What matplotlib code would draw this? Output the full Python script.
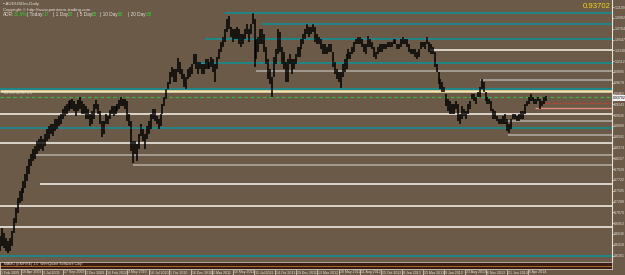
import numpy as np
import pandas as pd
import matplotlib
matplotlib.use("Agg")
import matplotlib.pyplot as plt

# weekly low / high of AUDUSD, one row per month (Feb 2009 .. Jun 2014)
week_low = [
    0.6300, 0.6400, 0.6350, 0.6300,
    0.6250, 0.6300, 0.6400, 0.6650, 0.6850,
    0.7050, 0.7250, 0.7300, 0.7450,
    0.7550, 0.7700, 0.7850, 0.8000,
    0.8100, 0.8150, 0.8250, 0.8300, 0.8350,
    0.8300, 0.8400, 0.8500, 0.8550,
    0.8650, 0.8600, 0.8700, 0.8750, 0.8800,
    0.8850, 0.8950, 0.9000, 0.9050,
    0.9100, 0.9150, 0.9150, 0.9100,
    0.9000, 0.9100, 0.9150, 0.9050, 0.9050,
    0.8950, 0.8950, 0.8800, 0.8850,
    # 2010
    0.8950, 0.9150, 0.9050, 0.8850,
    0.8580, 0.8650, 0.8850, 0.8850,
    0.8950, 0.9050, 0.9000, 0.9050, 0.9100,
    0.9150, 0.9200, 0.9200, 0.9150,
    0.8900, 0.8800, 0.8300, 0.8070, 0.8250,
    0.8100, 0.8350, 0.8600, 0.8500,
    0.8350, 0.8550, 0.8650, 0.8750,
    0.8950, 0.8900, 0.8850, 0.8750, 0.8800,
    0.9050, 0.9200, 0.9350, 0.9550,
    0.9650, 0.9800, 0.9700, 0.9700,
    0.9900, 0.9850, 0.9750, 0.9600, 0.9550,
    0.9750, 0.9800, 0.9850, 1.0050,
    # 2011
    0.9950, 0.9850, 0.9950, 0.9850, 0.9850,
    0.9950, 0.9950, 0.9950, 1.0000,
    0.9900, 0.9700, 0.9950, 1.0150,
    1.0300, 1.0400, 1.0500, 1.0700,
    1.0750, 1.0600, 1.0500, 1.0550, 1.0550,
    1.0450, 1.0400, 1.0450, 1.0550,
    1.0650, 1.0500, 1.0650, 1.0850,
    1.0000, 1.0150, 1.0300, 1.0450, 1.0450,
    1.0300, 1.0050, 0.9750, 0.9650,
    0.9390, 0.9800, 1.0050, 1.0250, 1.0300,
    1.0050, 0.9950, 0.9700, 0.9700,
    1.0050, 0.9850, 0.9950, 1.0050,
    # 2012
    1.0200, 1.0200, 1.0350, 1.0450, 1.0550,
    1.0650, 1.0600, 1.0650, 1.0700,
    1.0500, 1.0450, 1.0450, 1.0350,
    1.0250, 1.0250, 1.0250, 1.0300, 1.0300,
    1.0000, 0.9850, 0.9750, 0.9700,
    0.9580, 0.9800, 0.9900, 0.9950,
    1.0150, 1.0150, 1.0250, 1.0300, 1.0450,
    1.0450, 1.0450, 1.0400, 1.0300,
    1.0250, 1.0400, 1.0400, 1.0350,
    1.0200, 1.0150, 1.0250, 1.0300, 1.0300,
    1.0350, 1.0350, 1.0400, 1.0400,
    1.0400, 1.0450, 1.0450, 1.0350, 1.0350,
    # 2013
    1.0400, 1.0450, 1.0450, 1.0400,
    1.0300, 1.0250, 1.0250, 1.0200,
    1.0150, 1.0200, 1.0350, 1.0400,
    1.0350, 1.0450, 1.0300, 1.0250, 1.0250,
    1.0000, 0.9900, 0.9650, 0.9550,
    0.9500, 0.9500, 0.9200, 0.9100,
    0.9050, 0.9050, 0.9050, 0.9150, 0.8900,
    0.8848, 0.8950, 0.9000, 0.8950,
    0.9050, 0.9150, 0.9350, 0.9300, 0.9250,
    0.9400, 0.9400, 0.9550, 0.9500,
    0.9300, 0.9250, 0.9250, 0.9100,
    0.8950, 0.8950, 0.8900, 0.8850, 0.8850,
    # 2014
    0.8850, 0.8850, 0.8700, 0.8660,
    0.8750, 0.8950, 0.8950, 0.8900,
    0.8900, 0.8950, 0.8950, 0.9050, 0.9200,
    0.9250, 0.9300, 0.9300, 0.9250,
    0.9250, 0.9300, 0.9150, 0.9200,
    0.9250, 0.9320,
]
week_high = [
    0.6600, 0.6750, 0.6650, 0.6550,
    0.6500, 0.6550, 0.6700, 0.6950, 0.7150,
    0.7350, 0.7500, 0.7550, 0.7700,
    0.7850, 0.8000, 0.8150, 0.8250,
    0.8350, 0.8400, 0.8500, 0.8550, 0.8600,
    0.8550, 0.8650, 0.8750, 0.8800,
    0.8850, 0.8850, 0.8950, 0.8950, 0.9000,
    0.9050, 0.9150, 0.9200, 0.9250,
    0.9300, 0.9330, 0.9350, 0.9300,
    0.9250, 0.9330, 0.9400, 0.9300, 0.9250,
    0.9200, 0.9150, 0.9050, 0.9100,
    # 2010
    0.9250, 0.9330, 0.9250, 0.9100,
    0.8900, 0.8900, 0.9050, 0.9000,
    0.9120, 0.9200, 0.9200, 0.9200, 0.9250,
    0.9330, 0.9400, 0.9350, 0.9350,
    0.9300, 0.9050, 0.8900, 0.8500, 0.8500,
    0.8450, 0.8650, 0.8850, 0.8750,
    0.8650, 0.8800, 0.8900, 0.9050,
    0.9150, 0.9150, 0.9000, 0.8950, 0.9050,
    0.9250, 0.9400, 0.9550, 0.9700,
    0.9900, 0.9990, 0.9950, 0.9950,
    1.0180, 1.0100, 0.9950, 0.9850, 0.9800,
    0.9950, 1.0000, 1.0050, 1.0250,
    # 2011
    1.0250, 1.0100, 1.0100, 1.0050, 1.0050,
    1.0150, 1.0150, 1.0100, 1.0200,
    1.0150, 1.0050, 1.0200, 1.0350,
    1.0500, 1.0600, 1.0750, 1.0950,
    1.1012, 1.0800, 1.0750, 1.0750, 1.0800,
    1.0750, 1.0650, 1.0650, 1.0750,
    1.0850, 1.0750, 1.0850, 1.1080,
    1.0950, 1.0550, 1.0600, 1.0750, 1.0750,
    1.0650, 1.0400, 1.0150, 0.9950,
    0.9800, 1.0200, 1.0350, 1.0760, 1.0700,
    1.0400, 1.0300, 1.0100, 1.0150,
    1.0250, 1.0150, 1.0150, 1.0250,
    # 2012
    1.0400, 1.0400, 1.0550, 1.0650, 1.0750,
    1.0850, 1.0800, 1.0800, 1.0856,
    1.0800, 1.0650, 1.0600, 1.0550,
    1.0450, 1.0450, 1.0400, 1.0450, 1.0450,
    1.0300, 1.0100, 0.9950, 0.9900,
    0.9900, 1.0050, 1.0150, 1.0250,
    1.0350, 1.0300, 1.0400, 1.0500, 1.0550,
    1.0600, 1.0600, 1.0550, 1.0450,
    1.0450, 1.0625, 1.0550, 1.0500,
    1.0400, 1.0300, 1.0400, 1.0450, 1.0450,
    1.0450, 1.0450, 1.0500, 1.0500,
    1.0500, 1.0550, 1.0550, 1.0450, 1.0450,
    # 2013
    1.0550, 1.0600, 1.0550, 1.0550,
    1.0450, 1.0350, 1.0350, 1.0350,
    1.0300, 1.0350, 1.0500, 1.0500,
    1.0500, 1.0597, 1.0500, 1.0450, 1.0400,
    1.0300, 1.0050, 0.9900, 0.9750,
    0.9700, 0.9600, 0.9450, 0.9350,
    0.9300, 0.9250, 0.9250, 0.9300, 0.9250,
    0.9050, 0.9200, 0.9150, 0.9100,
    0.9250, 0.9300, 0.9450, 0.9450, 0.9400,
    0.9500, 0.9600, 0.9757, 0.9700,
    0.9500, 0.9400, 0.9350, 0.9300,
    0.9150, 0.9100, 0.9000, 0.8950, 0.8950,
    # 2014
    0.9000, 0.9050, 0.8950, 0.8850,
    0.8950, 0.9050, 0.9050, 0.9000,
    0.9050, 0.9100, 0.9100, 0.9250, 0.9300,
    0.9400, 0.9460, 0.9400, 0.9350,
    0.9350, 0.9400, 0.9350, 0.9300,
    0.9400, 0.9402,
]
first_week = "2009-02-02"
last_price = 0.93702

# horizontal support / resistance lines drawn on the chart
level_price = [1.1080, 1.0859, 1.0557, 1.0336, 1.0075, 0.9904, 0.9733, 0.9551,
               0.9511, 0.9390, 0.9270, 0.9169, 0.9048, 0.8907, 0.8767, 0.8626,
               0.8465, 0.8223, 0.8022, 0.7640, 0.7197, 0.6775, 0.6191]
level_start = ["2011-04-18", "2011-08-28", "2011-02-05", "2013-04-20", "2010-12-30",
               "2011-08-07", "2013-10-15", "2009-02-02", "2009-02-02", "2009-02-02",
               "2014-05-18", "2014-04-30", "2009-02-02", "2014-01-13", "2009-02-02",
               "2014-01-24", "2009-02-02", "2009-06-07", "2010-05-24", "2009-06-25",
               "2009-02-02", "2009-02-02", "2009-02-02"]
level_kind = ["teal", "teal", "teal", "white", "teal", "grey", "grey", "teal",
              "gold", "green", "red", "pink", "white", "grey", "teal", "grey",
              "white", "grey", "grey", "white", "white", "white", "teal"]

date_labels = ["1 Feb 2009", "18 Apr 2009", "3 Jul 2009", "17 Sep 2009", "2 Dec 2009",
               "16 Feb 2010", "3 May 2010", "18 Jul 2010", "1 Oct 2010", "16 Dec 2010",
               "2 Mar 2011", "16 May 2011", "31 Jul 2011", "14 Oct 2011", "29 Dec 2011",
               "13 Mar 2012", "28 May 2012", "11 Aug 2012", "25 Oct 2012", "8 Jan 2013",
               "25 Mar 2013", "8 Jun 2013", "23 Aug 2013", "6 Nov 2013", "21 Jan 2014",
               "6 Apr 2014"]

BG = "#6b5a48"
FG = "#e6e0d6"
styles = {
    "teal": dict(color="#1b8a8c", lw=1.3, ls="-"),
    "grey": dict(color="#a9a196", lw=1.3, ls="-"),
    "white": dict(color="#ece8e0", lw=1.2, ls="-"),
    "gold": dict(color="#f3e6b0", lw=1.8, ls="-"),
    "green": dict(color="#3fae3f", lw=0.9, ls=(0, (3, 2))),
    "red": dict(color="#e03a2a", lw=0.9, ls=(0, (1, 1.2))),
    "pink": dict(color="#e08a80", lw=1.0, ls="-"),
}

W, H = 625, 275
fig = plt.figure(figsize=(W / 100, H / 100), dpi=100, facecolor=BG)

def week_of(d):
    return (pd.Timestamp(d) - pd.Timestamp(first_week)).days / 7.0

x = np.arange(len(week_low))
x_right = 312.6

# main price panel: pixel rows 0..261, width 612
ax = fig.add_axes([0, (H - 261) / H, 612 / W, 261 / H])
ax.set_facecolor(BG)
ax.set_xlim(0, x_right)
ax.set_ylim(0.6091, 1.1342)

for p, s, k in zip(level_price, level_start, level_kind):
    st = styles[k]
    ax.hlines(p, week_of(s), x_right, colors=st["color"], lw=st["lw"],
              linestyles=[st["ls"]], zorder=2)

ax.vlines(x, week_low, week_high, colors="black", lw=1.1, zorder=3)

ax.yaxis.tick_right()
yt = np.arange(0.6201, 1.135, 0.02173)
ax.set_yticks(yt)
ax.set_yticklabels([f"{v:.4f}" for v in yt], fontsize=2.6, color=FG,
                   family="Liberation Sans")
ax.tick_params(axis="y", length=1.2, width=0.5, color=FG, pad=0.5)
ax.set_xticks([])
for sp in ["top", "left", "bottom"]:
    ax.spines[sp].set_visible(False)
ax.spines["right"].set_color(FG)
ax.spines["right"].set_linewidth(0.8)

# current price marker on the axis
ax.text(1.002, last_price, f"{last_price:.5f}", transform=ax.get_yaxis_transform(),
        fontsize=2.5, color="black", va="center", ha="left", family="Liberation Sans",
        bbox=dict(boxstyle="square,pad=0.2", fc="#f2f2f2", ec="none"), zorder=6)

# header texts
ax.text(0.998, 0.99, f"{last_price:.5f}", transform=ax.transAxes, fontsize=5.6,
        color="#f2d21e", ha="right", va="top", family="Liberation Sans")
fig.text(3 / W, 1 - 4 / H, "\u25aa AUDUSDm,Daily", fontsize=3.2, color=FG,
         va="center", family="Liberation Sans")
fig.text(3 / W, 1 - 9.5 / H, "Copyright \u00a9 http://www.pointzero-trading.com",
         fontsize=3.2, color=FG, va="center", family="Liberation Sans")
adr_parts = [("ADR:", FG, 3), ("31.9%", "#2fd02f", 14), ("| Today:", FG, 27),
             ("17", "#2fd02f", 44), ("| 1 Day:", FG, 53), ("72", "#2fd02f", 68),
             ("| 5 Day:", FG, 77), ("65", "#2fd02f", 92), ("| 10 Day:", FG, 100),
             ("18", "#2fd02f", 118), ("| 20 Day:", FG, 128), ("68", "#2fd02f", 147)]
for t, c, px in adr_parts:
    fig.text(px / W, 1 - 14.5 / H, t, fontsize=3.4, color=c, va="center",
             family="Liberation Sans")
ax.text(2, level_price[9] + 0.004, "#0.93730 ref 1.0", fontsize=2.8, color=FG,
        va="bottom", family="Liberation Sans")

# indicator strip under the price panel
ax2 = fig.add_axes([0, (H - 269) / H, 612 / W, 7 / H])
ax2.set_facecolor("#3b1c14")
ax2.set_xlim(0, x_right)
ax2.set_ylim(-1, 1)
ax2.axhline(0, color="#b8782a", lw=0.6)
ax2.set_yticks([])
ax2.set_xticks([])
for sp in ax2.spines.values():
    sp.set_color(FG)
    sp.set_linewidth(0.5)
ax2.text(2, 0.9, "MAMO (EMPIRE) 1.0  WinnQuant Software Corp.", fontsize=2.6,
         color=FG, va="top", family="Liberation Sans")

# date labels along the bottom
for lab in date_labels:
    wx = week_of(pd.Timestamp(lab))
    xf = wx / x_right * 612 / W
    fig.text(xf + 1 / W, 2.5 / H, lab, fontsize=2.5, color=FG, va="center",
             family="Liberation Sans")
    fig.add_artist(plt.Line2D([xf, xf], [0, 5 / H], color=FG, lw=0.5))

fig.savefig("out.png", dpi=100, facecolor=BG)
